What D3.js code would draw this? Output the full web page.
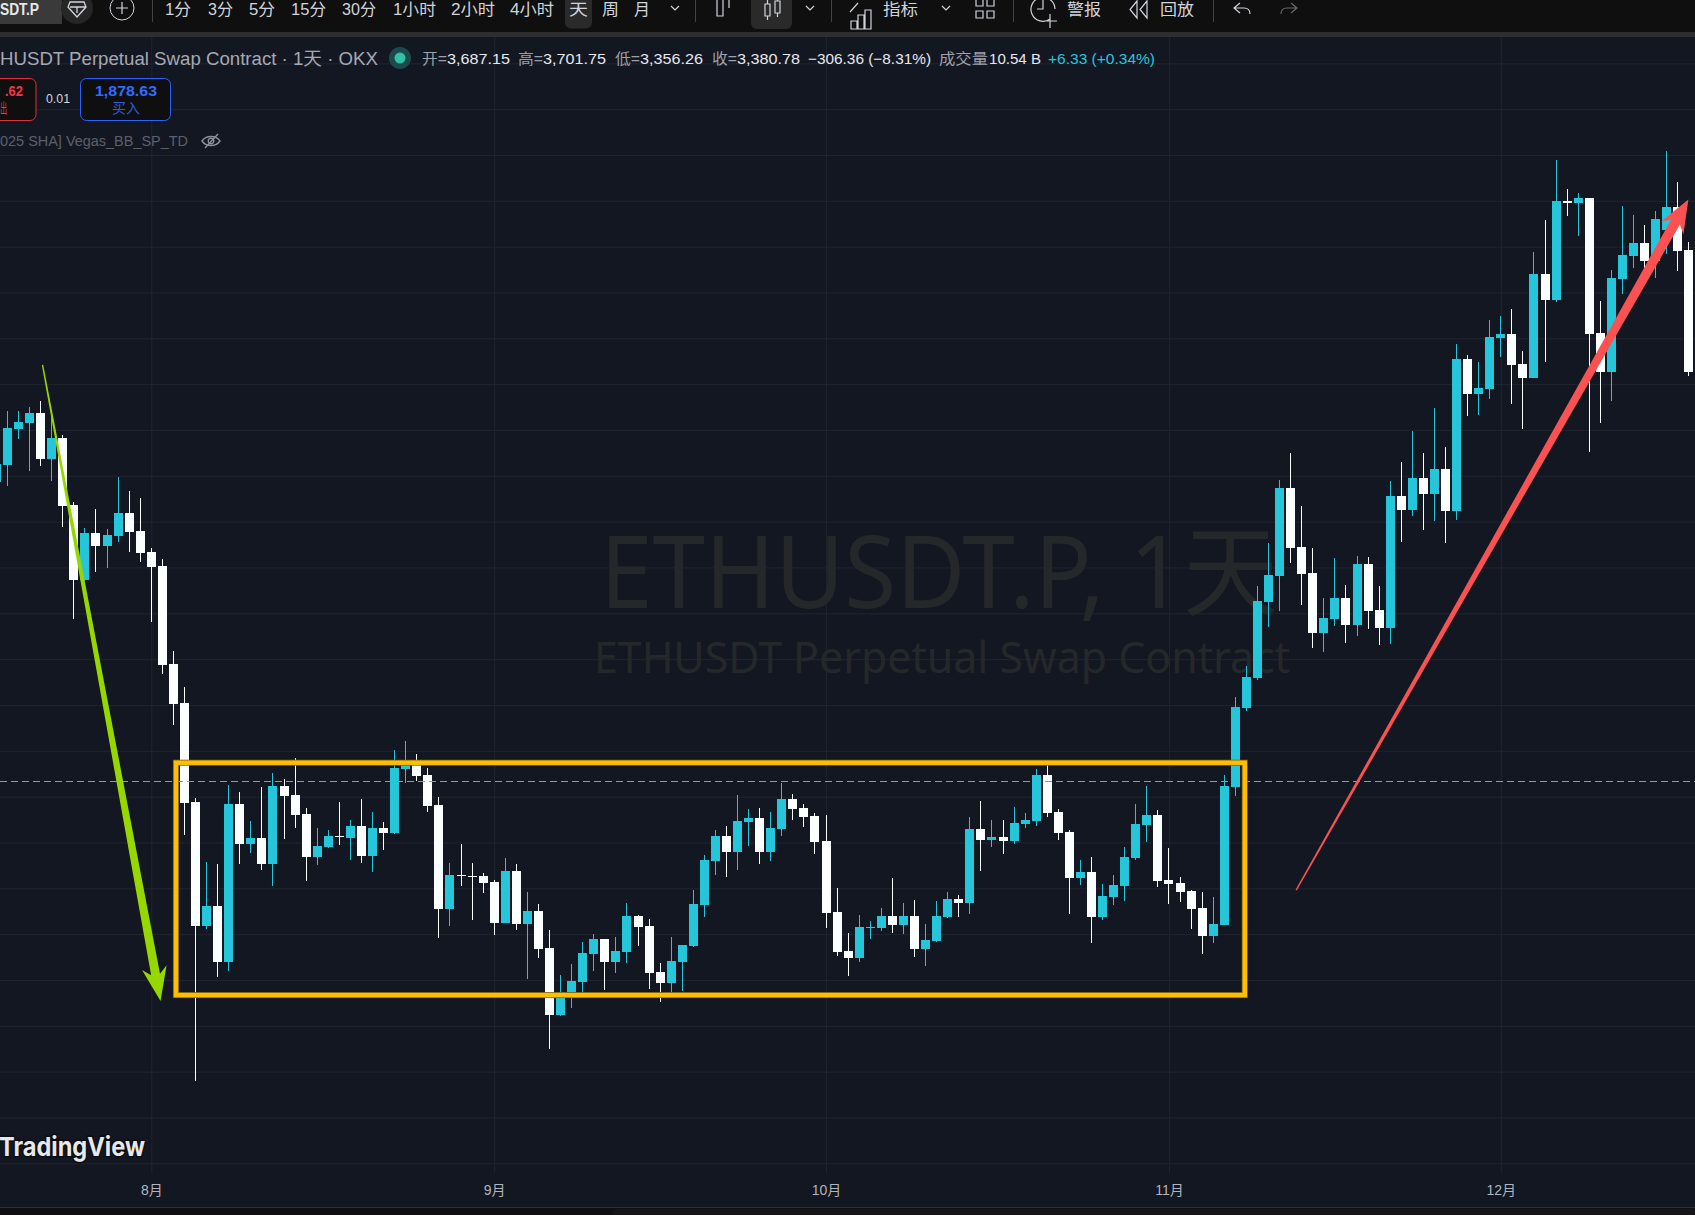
<!DOCTYPE html>
<html><head><meta charset="utf-8">
<script src="https://cdn.jsdelivr.net/npm/d3@7/dist/d3.min.js"></script>
<style>
html,body{margin:0;padding:0;background:#131722;overflow:hidden}
svg{display:block}
text{font-family:"Liberation Sans","Noto Sans CJK SC",sans-serif}
</style></head><body>
<svg id="c" width="1695" height="1215"></svg>
<script>
const firstDay = "2024-07-18";
const opens = [3387,3424,3502,3515,3537,3437,3483,3336,3173,3275,3247,3269,3319,3280,
3234,3203,2989,2904,2688,2418,2461,2339,2684,2597,2610,2553,2723,2704,2662,2568,2590,2614,2610,2636,2571,2632,2621,2760,2776,2747,2682,2455,2529,2527,2527,
2514,2424,2538,2422,2451,2370,2224,2274,2296,2357,2389,2339,2361,2440,2418,2317,2293,2339,2374,2464,2560,2614,2579,2645,2653,2579,2629,2695,2675,2658,
2603,2448,2363,2348,2413,2413,2440,2420,2440,2368,2385,2437,2477,2468,2629,2605,2612,2603,2640,2647,2747,2667,2623,2522,2536,2437,2481,2505,2566,2638,2660,
2518,2512,2494,2457,2396,2420,2721,2893,2959,3125,3181,3373,3245,3188,3057,3088,3133,3075,3208,3107,3068,3356,3325,3395,3360,3415,3323,3655,3579,3590,
3701,3710,3644,3613,3840,3784,4000,3995,4006,3712,3627,3830,3880,3908,3869,3936,3987,3893];
const highs = [3438,3541,3541,3550,3563,3541,3489,3343,3286,3328,3284,3397,3367,3352,
3243,3219,3018,2939,2696,2557,2553,2725,2710,2647,2721,2752,2739,2784,2675,2632,2627,2688,2649,2695,2667,2645,2802,2821,2793,2763,2699,2555,2597,2555,2533,
2518,2566,2553,2492,2466,2409,2311,2335,2383,2400,2389,2394,2468,2442,2433,2337,2394,2376,2496,2573,2627,2636,2704,2673,2675,2667,2730,2706,2684,2664,
2660,2501,2402,2442,2429,2457,2522,2468,2474,2422,2472,2492,2485,2656,2690,2649,2649,2677,2664,2760,2780,2673,2627,2562,2568,2509,2529,2590,2684,2723,2671,
2588,2525,2496,2492,2481,2747,2917,2985,3160,3253,3391,3450,3334,3243,3133,3221,3162,3225,3223,3160,3389,3430,3498,3450,3548,3463,3688,3664,3648,3740,
3749,3764,3672,3888,3958,4089,4026,4017,4006,3782,3849,3989,3969,3947,3978,4109,4041,3910];
const lows = [3373,3378,3480,3411,3421,3389,3288,3088,3171,3190,3199,3256,3234,3212,
3081,2968,2856,2616,2080,2411,2307,2320,2553,2577,2540,2505,2608,2632,2516,2551,2588,2595,2562,2555,2536,2584,2619,2730,2734,2667,2392,2418,2505,2431,2490,
2398,2424,2409,2302,2348,2149,2221,2239,2272,2320,2278,2315,2337,2374,2280,2252,2272,2276,2372,2437,2529,2525,2540,2592,2553,2560,2614,2649,2634,2575,
2413,2352,2309,2339,2389,2407,2402,2400,2350,2330,2383,2435,2437,2444,2538,2590,2575,2597,2632,2636,2656,2605,2444,2507,2381,2431,2464,2472,2562,2601,2503,
2466,2470,2411,2357,2381,2420,2701,2887,2955,3070,3105,3210,3118,3024,3016,3072,3035,3051,3066,3031,3033,3256,3312,3282,3301,3253,3304,3531,3533,3568,
3659,3557,3502,3613,3648,3779,3967,3923,3452,3515,3563,3797,3854,3849,3832,3884,3847,3618];
const closes = [3426,3504,3517,3537,3437,3483,3334,3173,3275,3247,3271,3319,3277,3232,
3201,2987,2902,2686,2418,2461,2339,2684,2597,2610,2553,2723,2701,2660,2568,2592,2614,2612,2636,2571,2632,2621,2763,2776,2745,2680,2455,2529,2527,2525,2512,
2424,2538,2422,2451,2368,2224,2274,2298,2359,2389,2339,2363,2440,2416,2315,2293,2341,2376,2466,2562,2614,2579,2647,2653,2579,2632,2695,2673,2656,2601,
2446,2361,2348,2416,2416,2440,2420,2440,2368,2387,2440,2477,2468,2629,2605,2612,2603,2643,2649,2747,2664,2621,2522,2536,2437,2483,2507,2568,2640,2660,2516,
2509,2492,2455,2396,2422,2723,2896,2961,3127,3184,3373,3243,3186,3057,3090,3133,3075,3208,3105,3068,3356,3325,3395,3360,3415,3323,3655,3579,3592,3703,
3710,3642,3613,3840,3784,4000,3995,4006,3710,3627,3832,3882,3908,3869,3960,3987,3891,3627];
const monthTicks = ["2024-08-01","2024-09-01","2024-10-01","2024-11-01","2024-12-01"];
const monthLabels = ["8月","9月","10月","11月","12月"];
const priceTicks = d3.range(1900,4400,100);
const lastPrice = 2733;
const rangeBox = {from:"2024-08-03T05:30", to:"2024-11-07T20:30", top:2774, bottom:2267};
const greenArrow = {from:"2024-07-22T04:00", to:"2024-08-01T20:00", p0:3642, p1:2254};
const redArrow = {from:"2024-11-12T12:00", to:"2024-12-17T23:00", p0:2496, p1:4003};

const W=1695,H=1215;
const UP="#26c6da",DOWN="#fbffff",GRID="#20252f",BG="#131722",BAR="#0f0f0f";
const svg=d3.select("#c");
const parse=d3.utcParse("%Y-%m-%d"), parseT=d3.utcParse("%Y-%m-%dT%H:%M");
const x=d3.scaleUtc().domain([parse(monthTicks[0]),parse(monthTicks[4])]).range([151.3,1500.8]);
const y=d3.scaleLinear().domain([1900,4300]).range([1163.3,63.3]);
const dates=d3.utcDay.range(parse(firstDay),d3.utcDay.offset(parse(firstDay),opens.length));
const candles=dates.map((d,i)=>({d,o:opens[i],h:highs[i],l:lows[i],c:closes[i]}));

svg.append("rect").attr("width",W).attr("height",H).attr("fill",BG);

// grid from axes
const gy=svg.append("g").call(d3.axisLeft(y).tickValues(priceTicks).tickSize(-W).tickFormat(""));
gy.select(".domain").remove();
gy.selectAll("line").attr("stroke",GRID).attr("stroke-width",1);
const gx=svg.append("g").attr("transform","translate(0,1173)")
 .call(d3.axisBottom(x).tickValues(monthTicks.map(parse)).tickSize(-1136).tickPadding(0).tickFormat(""));
gx.select(".domain").remove();
gx.selectAll("line").attr("stroke",GRID).attr("stroke-width",1);

// watermark
const wm=svg.append("g").attr("fill","#25282a").style("font-family",'"Noto Sans","Noto Sans CJK SC",sans-serif');
wm.append("text").attr("x",600).attr("y",608).attr("font-size",100).attr("textLength",678).attr("lengthAdjust","spacingAndGlyphs").style("font-family",'"Noto Sans","Noto Sans CJK SC",sans-serif').text("ETHUSDT.P, 1天");
wm.append("text").attr("x",594).attr("y",673).attr("font-size",44).attr("textLength",696).attr("lengthAdjust","spacingAndGlyphs").style("font-family",'"Noto Sans","Noto Sans CJK SC",sans-serif').text("ETHUSDT Perpetual Swap Contract");

// candles
const cg=svg.append("g").attr("shape-rendering","crispEdges");
const col=d=>d.c>=d.o?UP:DOWN;
cg.selectAll(".w").data(candles).join("rect").attr("class","w")
 .attr("x",d=>Math.floor(x(d.d))).attr("width",1)
 .attr("y",d=>y(d.h)).attr("height",d=>Math.max(1,y(d.l)-y(d.h))).attr("fill",col);
cg.selectAll(".b").data(candles).join("rect").attr("class","b")
 .attr("x",d=>Math.floor(x(d.d))-4).attr("width",9)
 .attr("y",d=>Math.round(y(Math.max(d.o,d.c))))
 .attr("height",d=>Math.max(1,Math.round(y(Math.min(d.o,d.c)))-Math.round(y(Math.max(d.o,d.c))))).attr("fill",col);

// last price dashed
svg.append("line").attr("x1",0).attr("x2",W).attr("y1",y(lastPrice)).attr("y2",y(lastPrice))
 .attr("stroke","#9598a1").attr("stroke-width",1).attr("stroke-dasharray","7 4");

// range box
const bx=x(parseT(rangeBox.from)),bx2=x(parseT(rangeBox.to)),by=y(rangeBox.top),by2=y(rangeBox.bottom);
svg.append("rect").attr("x",bx).attr("y",by).attr("width",bx2-bx).attr("height",by2-by).attr("fill","none")
 .attr("stroke","#7d6414").attr("stroke-width",6);
svg.append("rect").attr("x",bx).attr("y",by).attr("width",bx2-bx).attr("height",by2-by).attr("fill","none")
 .attr("stroke","#ffbf00").attr("stroke-width",4.4);

// arrows
function arrow(a,color,w0,w1,headLen,notch,headW){
 const sx=x(parseT(a.from)),sy=y(a.p0),tx=x(parseT(a.to)),ty=y(a.p1);
 const L=Math.hypot(tx-sx,ty-sy),ux=(tx-sx)/L,uy=(ty-sy)/L,nx=-uy,ny=ux;
 const P=(al,off)=>[sx+ux*al+nx*off,sy+uy*al+ny*off];
 const pts=[P(0,w0/2),P(L-notch,w1/2),P(L-headLen,headW/2),P(L,0),P(L-headLen,-headW/2),P(L-notch,-w1/2),P(0,-w0/2)];
 svg.append("path").attr("d",d3.line()(pts)+"Z").attr("fill",color);
}
arrow(greenArrow,"#97d700",1.4,9,34,27,25);
arrow(redArrow,"#fa5252",1.4,10,33,26,26);

// helper for fitted text
function T(g,x0,x1,base,txt,size,fill,weight){
 const t=g.append("text").attr("x",x0).attr("y",base).attr("font-size",size).attr("fill",fill).text(txt);
 if(x1!=null) t.attr("textLength",x1-x0).attr("lengthAdjust","spacingAndGlyphs");
 if(weight) t.attr("font-weight",weight);
 return t;
}

// legend
const lg=svg.append("g");
T(lg,0,378,64.5,"HUSDT Perpetual Swap Contract · 1天 · OKX",18,"#a6a9b2");
lg.append("circle").attr("cx",400).attr("cy",58).attr("r",11).attr("fill","#1c4a4c");
lg.append("circle").attr("cx",400).attr("cy",58).attr("r",5.5).attr("fill","#34c0a4");
const G="#9ea1aa",Wt="#e6e8ee";
[["开=",422,447,"3,687.15",447,510],["高=",518,543,"3,701.75",543,606],["低=",615,640,"3,356.26",640,703],["收=",712,737,"3,380.78",737,800]].forEach(r=>{
 T(lg,r[1],r[2],63.5,r[0],15,G);
 T(lg,r[4],r[5],63.5,r[3],15,Wt);
});
T(lg,808,931,63.5,"−306.36 (−8.31%)",15,Wt);
T(lg,939,988,63.5,"成交量",15,G);
T(lg,989,1041,63.5,"10.54 B",15,Wt);
T(lg,1048,1155,63.5,"+6.33 (+0.34%)",15,UP);

// order buttons
const bt=svg.append("g");
bt.append("rect").attr("x",-55).attr("y",78.5).attr("width",91).attr("height",42).attr("rx",6).attr("fill",BAR).attr("stroke","#e0303c");
T(bt,5,23,96,".62",14,"#f23645","bold");
T(bt,0,7,113,"出",14,"#f23645");
T(bt,46,70,103,"0.01",12.5,"#d1d4dc");
bt.append("rect").attr("x",80.5).attr("y",78.5).attr("width",90).attr("height",42).attr("rx",6).attr("fill",BAR).attr("stroke","#2962ff");
T(bt,95,157,96,"1,878.63",14,"#2f6bff","bold");
T(bt,112,140,113,"买入",14,"#2a5ee0");

// indicator row
T(svg,0,188,146,"025 SHA] Vegas_BB_SP_TD",14,"#5d606b");
const eye=svg.append("g").attr("transform","translate(211,141)").attr("fill","none").attr("stroke","#8d9099").attr("stroke-width",1.4);
eye.append("path").attr("d","M-9 0C-5 -6 5 -6 9 0C5 6 -5 6 -9 0Z");
eye.append("circle").attr("r",2.8);
eye.append("path").attr("d","M-6 7L7 -7");

// x axis labels
const ax=svg.append("g").attr("transform","translate(0,1195)")
 .call(d3.axisBottom(x).tickValues(monthTicks.map(parse)).tickSize(0).tickPadding(0).tickFormat((d,i)=>monthLabels[i]));
ax.select(".domain").remove();
ax.selectAll("text").attr("font-size",14).attr("fill","#b2b5be").attr("dy",0).attr("y",0)
  .attr("font-family",'"Liberation Sans","Noto Sans CJK SC",sans-serif');

// logo
svg.append("text").attr("x",-1).attr("y",1156).attr("font-size",26).attr("font-weight","bold")
  .attr("textLength",146).attr("lengthAdjust","spacingAndGlyphs")
  .style("font-family","Inter,Lato,sans-serif").attr("fill","#e8e8e8").attr("stroke","#0b0d12").attr("stroke-width",3).attr("paint-order","stroke").text("TradingView");

// bottom bar
svg.append("rect").attr("x",0).attr("y",1208).attr("width",W).attr("height",7).attr("fill",BAR);
svg.append("rect").attr("x",0).attr("y",1207).attr("width",W).attr("height",1).attr("fill","#2a2e39");
svg.append("rect").attr("x",612).attr("y",1209).attr("width",W-612).attr("height",6).attr("rx",4).attr("fill","#161616");

// toolbar
const tb=svg.append("g");
tb.append("rect").attr("width",W).attr("height",32).attr("fill",BAR);
tb.append("rect").attr("y",32).attr("width",W).attr("height",5).attr("fill","#2e2e2e");
tb.append("path").attr("d","M-5 -6H62V24H-5Z").attr("fill","#3a3a3a");
tb.append("circle").attr("cx",77).attr("cy",8).attr("r",16).attr("fill","#262626");
const ic="#d1d4dc";
const st=(d,w)=>tb.append("path").attr("d",d).attr("fill","none").attr("stroke",ic).attr("stroke-width",w||1.2);
T(tb,0,39,15,"SDT.P",16,"#e8e8e8","bold");
st("M70 2H84L86 7L77 17L68 7Z M70 7H86 M77 7L77 13",1.3);
tb.append("circle").attr("cx",122).attr("cy",8).attr("r",12).attr("fill","none").attr("stroke",ic);
st("M116 8H128 M122 2V14");
[[152],[695],[831],[1013],[1213]].forEach(s=>tb.append("rect").attr("x",s[0]).attr("y",0).attr("width",1).attr("height",22).attr("fill","#434343"));
tb.append("rect").attr("x",565).attr("y",-6).attr("width",27).attr("height",34.5).attr("rx",6).attr("fill","#2a2a2a");
tb.append("rect").attr("x",751).attr("y",-6).attr("width",41).attr("height",35).attr("rx",6).attr("fill","#2a2a2a");
[["1分",165,191],["3分",208,233],["5分",249,275],["15分",291,326],["30分",342,376],["1小时",393,436],["2小时",451,495],["4小时",510,554],["天",569,588],["周",602,619],["月",634,650],["指标",883,918],["警报",1067,1101],["回放",1160,1194]]
 .forEach(r=>T(tb,r[1],r[2],15,r[0],16,"#d1d4dc"));
const chev=c=>st(`M${c-4} 6L${c} 10L${c+4} 6`);
[675,810,946].forEach(chev);
st("M717 -2H723V16H717Z M729 -2V8");
st("M765 4H770V16H765Z M767.5 -2V4 M767.5 16V20 M775 1H780V13H775Z M777.5 -3V1 M777.5 13V17");
st("M851 29V21H857V29Z M858 29V15H864V29Z M865 29V10H871V29Z M850 12L858 3");
st("M976 -1H983V6H976Z M987 -1H994V6H987Z M976 11H983V18H976Z M987 11H994V18H987Z");
st("M1050 19A12 12 0 1 1 1055 9 M1043 0V9H1037 M1050 14V28 M1044 21H1057");
st("M1137 1L1130 9.500L1137 18Z M1147 1L1140 9.500L1147 18Z");
st("M1240 3L1234 8L1240 13 M1234 8H1244Q1250 8 1250 14");
tb.append("path").attr("d","M1291 3L1297 8L1291 13 M1297 8H1287Q1281 8 1281 14").attr("fill","none").attr("stroke","#6a6a6a").attr("stroke-width",1.2);
</script>
</body></html>
